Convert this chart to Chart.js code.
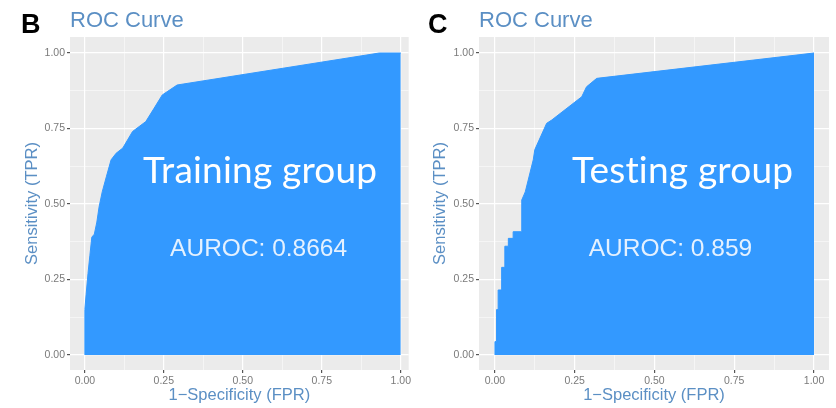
<!DOCTYPE html>
<html>
<head>
<meta charset="utf-8">
<script src="https://cdn.jsdelivr.net/npm/chart.js@4.4.1/dist/chart.umd.min.js"></script>
<style>
  html, body { margin: 0; padding: 0; background: #fff; }
  body { width: 836px; height: 408px; position: relative; overflow: hidden; }
  .panel { position: absolute; top: 0; height: 408px; }
  #panel-b { left: 0; width: 413px; }
  #panel-c { left: 418px; width: 418px; }
</style>
</head>
<body>
<div class="panel" id="panel-b"><canvas id="roc-train"></canvas></div>
<div class="panel" id="panel-c"><canvas id="roc-test"></canvas></div>
<script>
// ROC curve points
const trainFpr = [0, 0, 0.004, 0.01, 0.016, 0.022, 0.03, 0.038, 0.045, 0.055, 0.068, 0.083, 0.099, 0.12, 0.151, 0.193, 0.218, 0.245, 0.292, 0.932, 1.0];
const trainTpr = [0, 0.15, 0.2, 0.27, 0.33, 0.39, 0.4, 0.44, 0.49, 0.54, 0.59, 0.646, 0.668, 0.685, 0.74, 0.773, 0.815, 0.861, 0.894, 1.0, 1.0];

const testFpr = [0, 0, 0.005, 0.005, 0.01, 0.01, 0.021, 0.021, 0.031, 0.031, 0.042, 0.042, 0.057, 0.057, 0.084, 0.084, 0.095, 0.12, 0.125, 0.162, 0.178, 0.272, 0.287, 0.319, 1.0];
const testTpr = [0, 0.044, 0.044, 0.15, 0.15, 0.215, 0.215, 0.29, 0.29, 0.36, 0.36, 0.386, 0.386, 0.408, 0.408, 0.513, 0.54, 0.646, 0.68, 0.767, 0.778, 0.855, 0.888, 0.916, 1.0];

// axis breaks (ggplot majors + minors)
const majorTicks = [0, 0.25, 0.5, 0.75, 1];
const gridTicks = [0, 0.125, 0.25, 0.375, 0.5, 0.625, 0.75, 0.875, 1];

const panels = [
  { id: 'roc-train', letter: 'B', group: 'Training group', auroc: 'AUROC: 0.8664',
    fpr: trainFpr, tpr: trainTpr, groupX: 0.555, yAxisW: 70, padRight: 0,
    xMin: -0.047, xMax: 1.025, yTitlePad: 23 },
  { id: 'roc-test', letter: 'C', group: 'Testing group', auroc: 'AUROC: 0.859',
    fpr: testFpr, tpr: testTpr, groupX: 0.588, yAxisW: 61, padRight: 7,
    xMin: -0.05, xMax: 1.047, yTitlePad: 13 }
];

const BLUE = '#3399FF';
const TITLE_BLUE = '#5b8fc4';
const SANS = '"Liberation Sans", Arial, Helvetica, sans-serif';

// gray ggplot panel background
const panelBg = {
  id: 'panelBg',
  beforeDraw(chart) {
    const { ctx, chartArea: a } = chart;
    ctx.save();
    ctx.fillStyle = '#EBEBEB';
    ctx.fillRect(a.left, a.top, a.right - a.left, a.bottom - a.top);
    ctx.restore();
  }
};

// letters, title and annotations
const panelText = {
  id: 'panelText',
  afterDraw(chart, args, opts) {
    const { ctx, chartArea: a, scales } = chart;
    ctx.save();
    ctx.fillStyle = '#000';
    ctx.font = 'bold 27px ' + SANS;
    ctx.textAlign = 'left';
    ctx.textBaseline = 'alphabetic';
    ctx.fillText(opts.letter, opts.letter === 'B' ? 21 : 10, 33);

    ctx.fillStyle = TITLE_BLUE;
    ctx.font = '22px ' + SANS;
    ctx.fillText('ROC Curve', a.left, 27);

    ctx.textAlign = 'center';
    ctx.fillStyle = '#ffffff';
    ctx.font = '37px Lato, "Open Sans", sans-serif';
    ctx.letterSpacing = '0.2px'; // keeps Lato from joining "ti"
    ctx.fillText(opts.group, scales.x.getPixelForValue(opts.groupX), scales.y.getPixelForValue(0.57));
    ctx.letterSpacing = '0px';

    ctx.fillStyle = 'rgba(238, 246, 255, 0.95)';
    ctx.font = '24.5px ' + SANS;
    ctx.textBaseline = 'middle';
    ctx.fillText(opts.auroc, scales.x.getPixelForValue(0.55), scales.y.getPixelForValue(0.35));
    ctx.restore();
  }
};

function axis(min, max, title, titlePad, isY, fitSize) {
  return {
    type: 'linear',
    min: min,
    max: max,
    afterBuildTicks: scale => { scale.ticks = gridTicks.map(v => ({ value: v })); },
    afterFit: scale => {
      if (isY) scale.width = fitSize; else scale.height = fitSize;
    },
    border: { display: false },
    grid: {
      color: '#ffffff',
      lineWidth: c => (c.index % 2 === 0 ? 1.2 : 0.5),
      tickColor: c => (c.index % 2 === 0 ? '#555' : 'rgba(0,0,0,0)'),
      tickLength: 3,
      drawTicks: true
    },
    ticks: {
      autoSkip: false,
      maxRotation: 0,
      padding: 2,
      color: '#7a7a7a',
      font: { size: 10.5, family: SANS },
      callback: v => (majorTicks.includes(v) ? v.toFixed(2) : '')
    },
    title: {
      display: true,
      text: title,
      color: TITLE_BLUE,
      font: { size: 16.5, family: SANS },
      padding: isY ? { top: titlePad, bottom: 0 } : { top: 0, bottom: 3 }
    }
  };
}

panels.forEach(p => {
  const points = p.fpr.map((x, i) => ({ x: x, y: p.tpr[i] }));
  new Chart(document.getElementById(p.id), {
    type: 'scatter',
    data: {
      datasets: [{
        data: points,
        showLine: true,
        fill: 'origin',
        backgroundColor: BLUE,
        borderColor: BLUE,
        borderWidth: 1,
        pointRadius: 0,
        tension: 0
      }]
    },
    options: {
      responsive: true,
      maintainAspectRatio: false,
      animation: false,
      layout: { padding: { top: 37, right: p.padRight, bottom: 0, left: 0 } },
      plugins: {
        legend: { display: false },
        tooltip: { enabled: false },
        panelText: { letter: p.letter, group: p.group, auroc: p.auroc, groupX: p.groupX }
      },
      scales: {
        x: axis(p.xMin, p.xMax, '1\u2212Specificity (FPR)', 0, false, 38),
        y: axis(-0.05, 1.053, 'Sensitivity (TPR)', p.yTitlePad, true, p.yAxisW)
      }
    },
    plugins: [panelBg, panelText]
  });
});
</script>
</body>
</html>
